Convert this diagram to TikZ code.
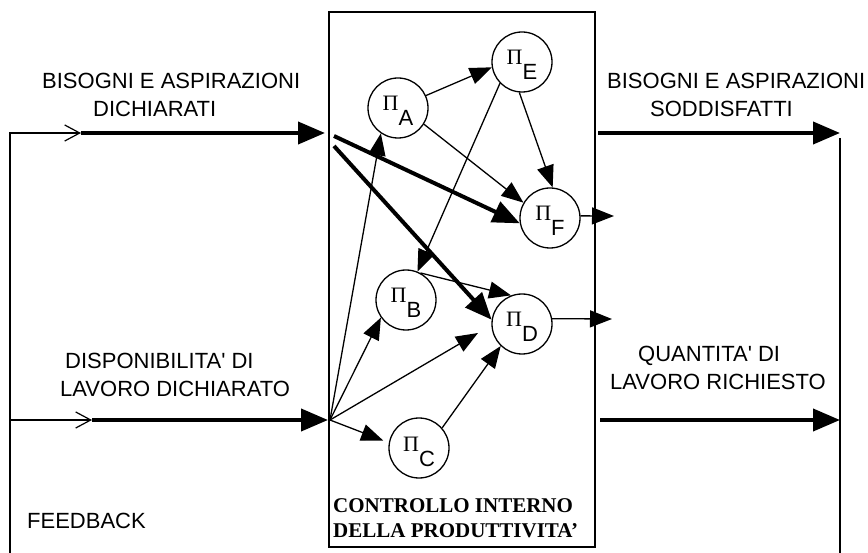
\documentclass[tikz,border=0pt]{standalone}
\usepackage{fontspec}
\setmainfont{Liberation Sans}
\newfontfamily\greekfont{Liberation Serif}
\newfontfamily\titlefont[Ligatures=TeX]{Liberation Serif}
\usetikzlibrary{arrows.meta}

% process label: capital Pi with a large lowered index letter
\newcommand\pisub[1]{{\greekfont\fontsize{22}{24}\selectfont Π}\raisebox{-15pt}{#1}}

\begin{document}
\begin{tikzpicture}[x=1pt,y=-1pt,
  every node/.style={inner sep=0pt},
  lbl/.style={anchor=base west, font=\fontsize{22}{26}\selectfont},
  ttl/.style={anchor=base west, font=\titlefont\bfseries\fontsize{21}{24}\selectfont},
  proc/.style={draw, circle, line width=1.3pt, minimum size=60pt,
               text height=18pt, text depth=12pt, font=\fontsize{22}{24}\selectfont},
  thin/.style={line width=1.3pt, -{Triangle[length=22pt,width=17pt]}},
  heavy/.style={line width=4pt, -{Triangle[length=27pt,width=22pt]}},
  fb/.style={line width=1.2pt},
  fbtip/.style={line width=1.2pt, -{Straight Barb[length=15pt,width=16pt]}},
]
\useasboundingbox (0,0) rectangle (868,553);

% central block
\node[draw, line width=1.3pt, minimum width=266pt, minimum height=535pt] (ctrl) at (462,279.5) {};
\node[ttl] (ctitle1) at (333,512) {CONTROLLO INTERNO};
\node[ttl] (ctitle2) at (333,537) {DELLA PRODUTTIVITA’};

% processes
\node[proc] (A) at (398,108) {\pisub{A}};
\node[proc] (E) at (522,62)  {\pisub{E}};
\node[proc] (F) at (550,218) {\pisub{F}};
\node[proc] (B) at (406,300) {\pisub{B}};
\node[proc] (D) at (522,324) {\pisub{D}};
\node[proc] (C) at (419,448) {\pisub{C}};

% helper points
\coordinate (fbBot)  at (10,553);
\coordinate (fbTop)  at (10,133);
\coordinate (fbMid)  at (10,420);
\coordinate (in1s)   at (81,133);
\coordinate (in2s)   at (92,420);
\coordinate (in1e)   at (325,133);
\coordinate (in2e)   at (328,420);
\coordinate (out1s)  at (598,133);
\coordinate (out1e)  at (840,133);
\coordinate (out2s)  at (600,420);
\coordinate (out2e)  at (840,420);
\coordinate (rTop)   at (840,138);
\coordinate (rBot)   at (840,553);
\coordinate (fan)    at (330,420);
\coordinate (t1)     at (334,136);
\coordinate (t2)     at (334,146);
\coordinate (dpt)    at (478,333);
\coordinate (dout)   at (612,319);
\coordinate (fout)   at (614,216);

% feedback loop and inputs
\draw[fbtip] (fbBot) -- (fbTop) -- (in1s);
\draw[fbtip] (fbMid) -- (in2s);
\draw[heavy] (in1s) -- (in1e);
\draw[heavy] (in2s) -- (in2e);

% outputs
\draw[heavy] (out1s) -- (out1e);
\draw[heavy] (out2s) -- (out2e);
\draw[fb] (rTop) -- (rBot);

% internal flows
\draw[heavy] (t1) -- (F.190);
\draw[heavy] (t2) -- (D.172);
\draw[thin] (A.24) -- (E.190);
\draw[thin] (A.328) -- (F.150);
\draw[thin] (E.265) -- (F.85);
\draw[thin] (E.224) -- (B.68);
\draw[thin] (B.62) -- (D.111);
\draw[thin] (fan) -- (A.236);
\draw[thin] (fan) -- (B.215);
\draw[thin] (fan) -- (dpt);
\draw[thin, shorten >=6pt] (fan) -- (C.170);
\draw[thin] (C.41) -- (D.226);
\draw[thin] (D.10) -- (dout);
\draw[thin] (F.4) -- (fout);

% labels
\node[lbl] (tin1)  at (42,89)   {BISOGNI E ASPIRAZIONI};
\node[lbl] (tin2)  at (93,117)  {DICHIARATI};
\node[lbl] (tout1) at (607,89)  {BISOGNI E ASPIRAZIONI};
\node[lbl] (tout2) at (650,117) {SODDISFATTI};
\node[lbl] (tlav1) at (65,369)  {DISPONIBILITA\textquotesingle{} DI};
\node[lbl] (tlav2) at (60,397)  {LAVORO DICHIARATO};
\node[lbl] (tq1)   at (638,362) {QUANTITA\textquotesingle{} DI};
\node[lbl] (tq2)   at (610,390) {LAVORO RICHIESTO};
\node[lbl] (tfb)   at (27,528)  {FEEDBACK};
\end{tikzpicture}
\end{document}
